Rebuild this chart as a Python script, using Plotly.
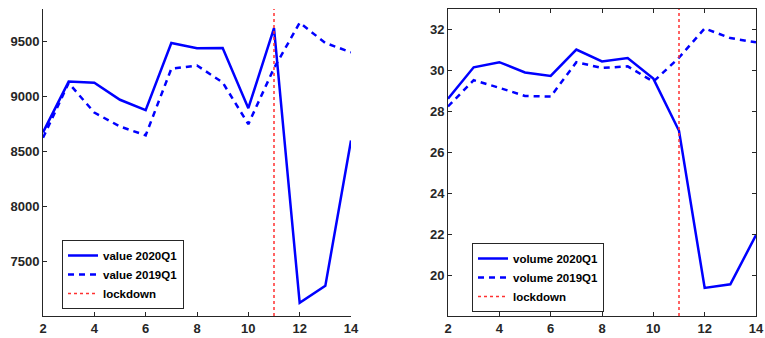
import plotly.graph_objects as go

weeks = [2, 3, 4, 5, 6, 7, 8, 9, 10, 11, 12, 13, 14]
value_2020 = [8675, 9138, 9128, 8972, 8878, 9490, 9442, 9445, 8895, 9625, 7120, 7275, 8600]
value_2019 = [8625, 9125, 8855, 8728, 8648, 9255, 9285, 9130, 8750, 9260, 9675, 9490, 9405]
volume_2020 = [28.62, 30.15, 30.4, 29.9, 29.73, 31.02, 30.44, 30.6, 29.6, 27.05, 19.37, 19.55, 21.95]
volume_2019 = [28.24, 29.52, 29.15, 28.75, 28.72, 30.4, 30.12, 30.2, 29.45, 30.62, 32.05, 31.58, 31.37]
lockdown = 11
value_range = [7000, 9800]
volume_range = [18, 33]
x_ticks = [2, 4, 6, 8, 10, 12, 14]
value_ticks = [7500, 8000, 8500, 9000, 9500]
volume_ticks = [20, 22, 24, 26, 28, 30, 32]

BLUE = "#0000ff"
RED = "#ff3030"
AXC = "#262626"
FONT = "Liberation Sans"

fig = go.Figure()

fig.add_trace(go.Scatter(x=weeks, y=value_2020, mode="lines", name="value 2020Q1",
                         line=dict(color=BLUE, width=2.5), xaxis="x", yaxis="y", legend="legend"))
fig.add_trace(go.Scatter(x=weeks, y=value_2019, mode="lines", name="value 2019Q1",
                         line=dict(color=BLUE, width=2.5, dash="6px,5px"), xaxis="x", yaxis="y", legend="legend"))
fig.add_trace(go.Scatter(x=[lockdown, lockdown], y=value_range, mode="lines", name="lockdown",
                         line=dict(color=RED, width=1.5, dash="dot"), xaxis="x", yaxis="y", legend="legend"))

fig.add_trace(go.Scatter(x=weeks, y=volume_2020, mode="lines", name="volume 2020Q1",
                         line=dict(color=BLUE, width=2.5), xaxis="x2", yaxis="y2", legend="legend2"))
fig.add_trace(go.Scatter(x=weeks, y=volume_2019, mode="lines", name="volume 2019Q1",
                         line=dict(color=BLUE, width=2.5, dash="6px,5px"), xaxis="x2", yaxis="y2", legend="legend2"))
fig.add_trace(go.Scatter(x=[lockdown, lockdown], y=volume_range, mode="lines", name="lockdown",
                         line=dict(color=RED, width=1.5, dash="dot"), xaxis="x2", yaxis="y2", legend="legend2"))

tickfont = dict(family=FONT, size=13, color=AXC, weight="bold")
common_x = dict(range=[2, 14], tickvals=x_ticks, showgrid=False, zeroline=False, showline=True,
                linecolor=AXC, linewidth=1, ticks="inside", ticklen=4, tickcolor=AXC,
                tickfont=tickfont, automargin=False)
common_y = dict(showgrid=False, zeroline=False, showline=True, linecolor=AXC, linewidth=1,
                ticks="inside", ticklen=4, tickcolor=AXC, tickfont=tickfont, automargin=False)

ydom = [1 - 316 / 338, 1 - 9 / 338]
legfont = dict(family=FONT, size=11.5, color="black", weight="bold")

fig.update_layout(
    width=765, height=338,
    margin=dict(l=0, r=0, t=0, b=0),
    paper_bgcolor="white", plot_bgcolor="white",
    xaxis=dict(domain=[43 / 765, 351 / 765], anchor="y", **common_x),
    yaxis=dict(domain=ydom, anchor="x", range=value_range, tickvals=value_ticks, **common_y),
    xaxis2=dict(domain=[448 / 765, 756 / 765], anchor="y2", mirror="ticks", **common_x),
    yaxis2=dict(domain=ydom, anchor="x2", range=volume_range, tickvals=volume_ticks,
                mirror="ticks", **common_y),
    legend=dict(x=62 / 765, y=1 - 240 / 338, xanchor="left", yanchor="top",
                bordercolor=AXC, borderwidth=1, bgcolor="white", font=legfont,
                tracegroupgap=0, itemwidth=30),
    legend2=dict(x=472 / 765, y=1 - 243 / 338, xanchor="left", yanchor="top",
                 bordercolor=AXC, borderwidth=1, bgcolor="white", font=legfont,
                 tracegroupgap=0, itemwidth=30),
    showlegend=True,
)

fig.write_html("out.html")
